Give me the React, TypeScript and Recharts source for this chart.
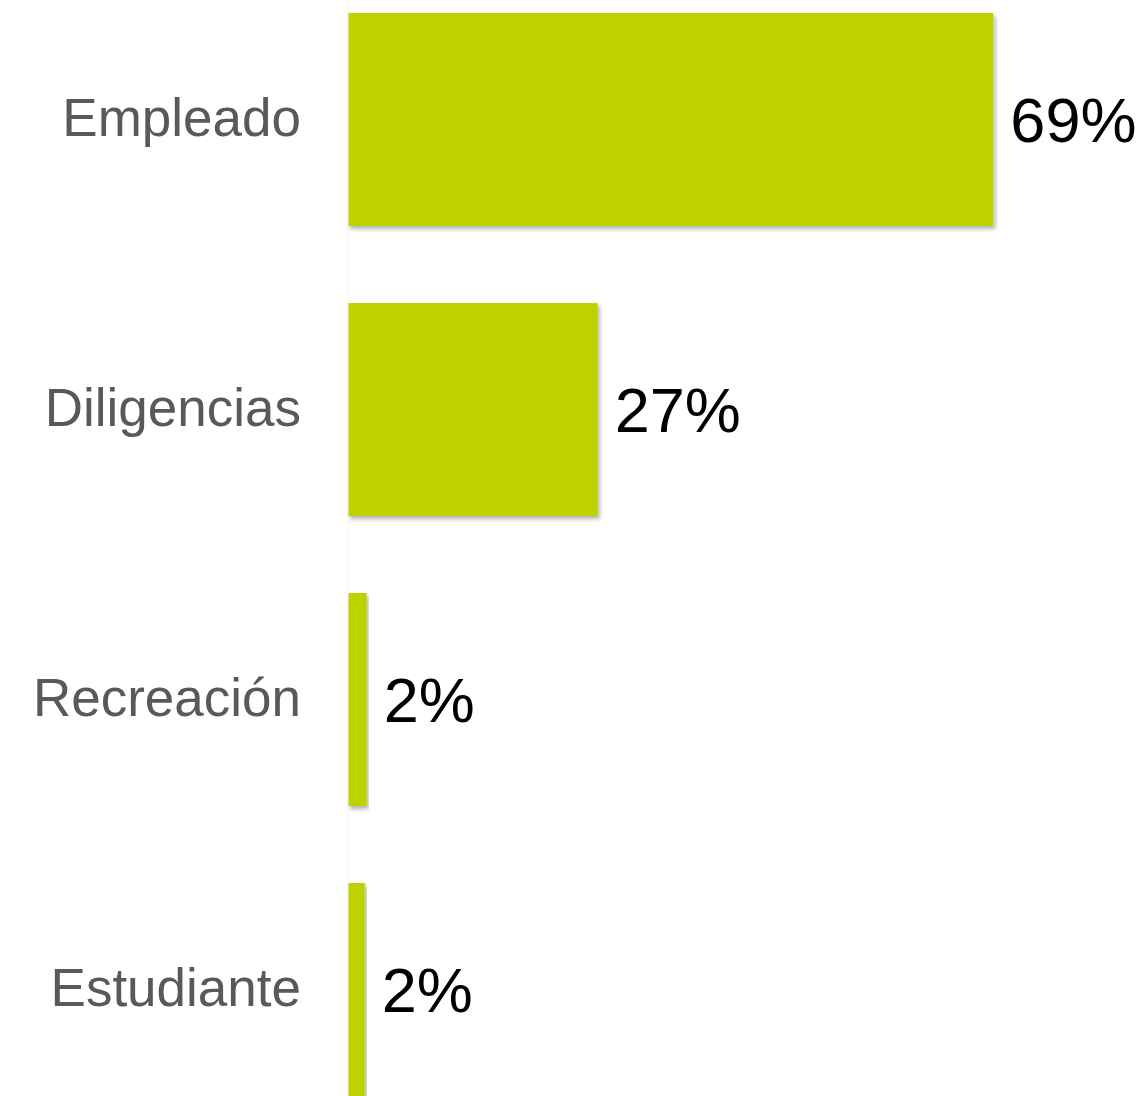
import { BarChart, Bar, XAxis, YAxis, LabelList } from 'recharts';

const categories = ['Empleado', 'Diligencias', 'Recreación', 'Estudiante'];
const shares = [69, 26.7, 2.0, 1.8];

const data = categories.map((name, i) => ({ name, value: shares[i] }));

const BAR_COLOR = '#bed200';
const FONT = '"Liberation Sans", Arial, sans-serif';

function App() {
    return (
        <div style={{ position: 'absolute', left: 0, top: 0, width: 1143, height: 1096, overflow: 'hidden', background: '#fff' }}>
            <svg width={0} height={0} style={{ position: 'absolute' }}>
                <defs>
                    <filter id="barShadow" x="-5%" y="-5%" width="115%" height="115%">
                        <feDropShadow dx={2} dy={3} stdDeviation={2} floodColor="#000" floodOpacity={0.3} />
                    </filter>
                </defs>
            </svg>
            <div style={{ position: 'absolute', left: 0, top: -26.5 }}>
                <BarChart
                    width={1143}
                    height={1160}
                    data={data}
                    layout="vertical"
                    margin={{ top: 0, right: 0, bottom: 0, left: 0 }}
                >
                    <XAxis type="number" domain={[0, 85]} hide />
                    <YAxis
                        type="category"
                        dataKey="name"
                        width={348}
                        tickSize={0}
                        tickMargin={47}
                        axisLine={{ stroke: '#f3f3f3' }}
                        tickLine={false}
                        tick={{ fill: '#595959', fontSize: 53, fontFamily: FONT, dy: -2 }}
                    />
                    <Bar
                        dataKey="value"
                        fill={BAR_COLOR}
                        barSize={213}
                        isAnimationActive={false}
                        style={{ filter: 'url(#barShadow)' }}
                    >
                        <LabelList
                            dataKey="value"
                            position="right"
                            offset={17}
                            formatter={(v: number) => `${Math.round(v)}%`}
                            style={{ fill: '#000', fontSize: 63, fontFamily: FONT, filter: 'none' }}
                        />
                    </Bar>
                </BarChart>
            </div>
        </div>
    );
}

export default App;
